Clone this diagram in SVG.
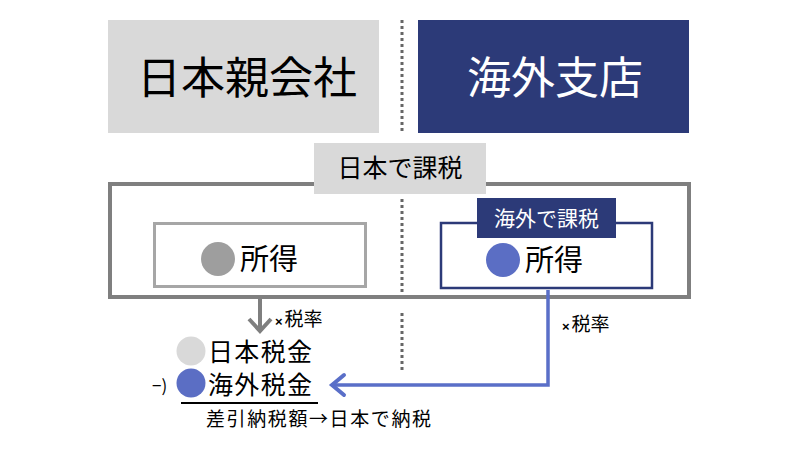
<svg xmlns="http://www.w3.org/2000/svg" width="800" height="450" viewBox="0 0 800 450">
<defs>
<style>
text{font-family:"Noto Sans CJK JP","Noto Sans",sans-serif;fill:#000}
.w{fill:#fff}
.x{font-family:"Liberation Sans",sans-serif;font-weight:bold;font-size:13px}
.dot{stroke:#666;stroke-width:3;stroke-dasharray:3 3;fill:none}
.gray{fill:#d9d9d9}
.navy{fill:#2c3a78}
</style>
</defs>
<rect width="800" height="450" fill="#fff"/>
<g id="dividers">
<line class="dot" x1="402" y1="20" x2="402" y2="133"/>
<line class="dot" x1="402" y1="199" x2="402" y2="296"/>
<line class="dot" x1="402" y1="313" x2="402" y2="371"/>
</g>
<g id="parent">
<rect class="gray" x="108" y="20" width="271" height="113"/>
<text x="247" y="94" font-size="44" text-anchor="middle">日本親会社</text>
</g>
<g id="branch">
<rect class="navy" x="418" y="20" width="271" height="113"/>
<text class="w" x="555" y="94" font-size="44" text-anchor="middle">海外支店</text>
</g>
<g id="japan-tax">
<rect x="110" y="184" width="579" height="113" fill="none" stroke="#7f7f7f" stroke-width="4"/>
<rect class="gray" x="314" y="143" width="172" height="51"/>
<text x="400" y="177" font-size="25" text-anchor="middle">日本で課税</text>
</g>
<g id="income-jp">
<rect x="154.5" y="223.5" width="211" height="63" fill="none" stroke="#a6a6a6" stroke-width="3"/>
<circle cx="218" cy="259" r="17" fill="#9e9e9e"/>
<text x="240" y="270" font-size="29">所得</text>
</g>
<g id="income-branch">
<rect x="441" y="223" width="211" height="65" fill="none" stroke="#2c3a78" stroke-width="2.5"/>
<rect class="navy" x="477" y="198" width="139" height="40"/>
<text class="w" x="546.5" y="226" font-size="21" text-anchor="middle">海外で課税</text>
<circle cx="503" cy="260" r="17" fill="#5b6ec4"/>
<text x="525" y="271" font-size="29">所得</text>
</g>
<g id="connectors">
<path d="M260 298V331" stroke="#7f7f7f" stroke-width="4" fill="none"/>
<path d="M249 319L260 331L271 319" stroke="#7f7f7f" stroke-width="4" fill="none"/>
<path d="M548 290V385H333" stroke="#5a6fc8" stroke-width="3.5" fill="none"/>
<path d="M344 375L332 385L344 395" stroke="#5a6fc8" stroke-width="4" fill="none" stroke-linecap="round"/>
<text x="275" y="326" font-size="19"><tspan class="x">×</tspan><tspan dx="2">税率</tspan></text>
<text x="562" y="331" font-size="19"><tspan class="x">×</tspan><tspan dx="2">税率</tspan></text>
</g>
<g id="calc">
<circle cx="191" cy="351" r="14.5" fill="#d9d9d9"/>
<text x="208" y="361" font-size="25" textLength="104" lengthAdjust="spacing">日本税金</text>
<text x="152" y="392" font-size="17">−)</text>
<circle cx="191" cy="383" r="14.5" fill="#5b6ec4"/>
<text x="208" y="394" font-size="25" textLength="104" lengthAdjust="spacing">海外税金</text>
<line x1="181" y1="403" x2="318" y2="403" stroke="#000" stroke-width="2"/>
<text x="206" y="426" font-size="19" textLength="225" lengthAdjust="spacing">差引納税額→日本で納税</text>
</g>
</svg>
